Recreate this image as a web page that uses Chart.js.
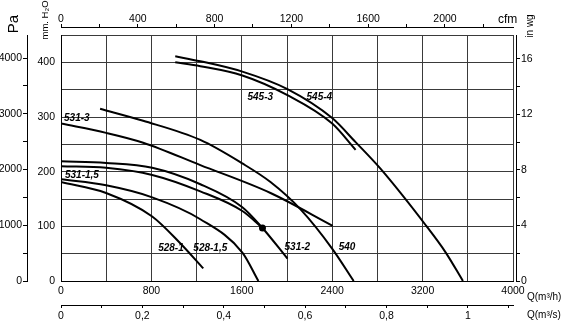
<!DOCTYPE html>
<html>
<head>
<meta charset="utf-8">
<script src="https://cdn.jsdelivr.net/npm/chart.js@4.4.1/dist/chart.umd.min.js"></script>
<style>
  html, body { margin: 0; padding: 0; background: #fff; }
  canvas { display: block; }
</style>
</head>
<body>
<canvas id="fanChart" width="566" height="326"></canvas>
<script>
// Fan curves: flow Q in m3/h, pressure in mm H2O
const q545_4 = [1011, 1233, 1605, 2004, 2400, 2607, 2829, 3228, 3405, 3557];
const p545_4 = [411, 402, 383, 351, 298, 254, 205, 102, 52, 0];
const q545_3 = [1011, 1233, 1605, 2004, 2400, 2607];
const p545_3 = [400, 393, 376, 340, 288, 240];
const q540 = [346, 727, 1233, 1605, 1854, 2120, 2404, 2590];
const p540 = [315, 293, 258, 215, 181, 131, 58, 0];
const q531_3 = [0, 399, 727, 1233, 1854, 2404];
const p531_3 = [288, 271, 253, 212, 161, 101];
const q531_2 = [0, 399, 807, 1233, 1605, 1783, 2004];
const p531_2 = [219, 216, 207, 177, 135, 97, 41];
const q531_15 = [0, 399, 807, 1233, 1605, 1783];
const p531_15 = [210, 207, 194, 164, 128, 97];
const q528_15 = [0, 399, 807, 1233, 1605, 1747];
const p528_15 = [186, 175, 153, 113, 52, 0];
const q528_1 = [0, 399, 807, 1055, 1259];
const p528_1 = [181, 161, 118, 69, 23];

const curveNames = ['545-4', '545-3', '540', '531-3', '531-2', '531-1,5', '528-1,5', '528-1'];

// unit conversions for the extra axes
const M3H_PER_CFM = 1.69901;
const PA_PER_MM = 9.80665;
const MM_PER_INWG = 25.4;
const Q_MAX = 4000;
const P_MAX = 450;

function toPoints(q, p) {
    return q.map((v, i) => ({ x: v, y: p[i] }));
}

const curves = [
    toPoints(q545_4, p545_4),
    toPoints(q545_3, p545_3),
    toPoints(q540, p540),
    toPoints(q531_3, p531_3),
    toPoints(q531_2, p531_2),
    toPoints(q531_15, p531_15),
    toPoints(q528_15, p528_15),
    toPoints(q528_1, p528_1)
];

// where each curve name is written (Q, mm H2O of the text's left/middle)
const labelAt = {
    '545-3': [1650, 337], '545-4': [2173, 337], '531-3': [27, 298], '531-1,5': [35, 194],
    '528-1': [860, 59], '528-1,5': [1171, 59], '531-2': [1978, 61], '540': [2457, 61]
};

const FONT = "'Liberation Sans', Arial, sans-serif";
const tickFont = { family: FONT, size: 10.5 };
const gridColor = '#3a3a3a';

// plain ticks every `step` from 0, no extra tick at the (odd) max
const everyStep = step => scale => {
    const ticks = [];
    for (let i = 0; i * step <= scale.max + 1e-9; i++) {
        ticks.push({ value: Math.round(i * step * 1000) / 1000 });
    }
    scale.ticks = ticks;
};

const curveLabels = {
    id: 'curveLabels',
    afterDatasetsDraw(chart) {
        const { ctx, scales } = chart;
        ctx.save();
        ctx.fillStyle = '#000';
        ctx.font = 'italic bold 10px ' + FONT;
        ctx.textAlign = 'left';
        ctx.textBaseline = 'middle';
        curveNames.forEach(name => {
            const [q, p] = labelAt[name];
            ctx.fillText(name, scales.x.getPixelForValue(q), scales.y.getPixelForValue(p));
        });
        ctx.restore();
    },
    afterDraw(chart) {
        const ctx = chart.ctx;
        ctx.save();
        ctx.fillStyle = '#000';
        ctx.textBaseline = 'middle';

        // unit captions
        ctx.font = '10px ' + FONT;
        ctx.textAlign = 'left';
        ctx.fillText('Q(m³/h)', 527, 297);
        ctx.fillText('Q(m³/s)', 527, 315);
        ctx.font = '12px ' + FONT;
        ctx.fillText('cfm', 498, 20);

        const vertical = (text, x, y, font) => {
            ctx.save();
            ctx.translate(x, y);
            ctx.rotate(-Math.PI / 2);
            ctx.font = font;
            ctx.textAlign = 'center';
            ctx.fillText(text, 0, 0);
            ctx.restore();
        };
        vertical('Pa', 14, 24, '15px ' + FONT);
        vertical('mm. H₂O', 45, 20, '9.5px ' + FONT);
        vertical('in wg', 530, 26, '10px ' + FONT);
        ctx.restore();
    }
};

new Chart(document.getElementById('fanChart'), {
    type: 'line',
    data: {
        datasets: curves.map((pts, i) => ({
            label: curveNames[i],
            data: pts,
            borderColor: '#000',
            backgroundColor: '#000',
            borderWidth: 2,
            // 531-1,5 ends with a dot on 531-2
            pointRadius: curveNames[i] === '531-1,5' ? pts.map((_, j) => j === pts.length - 1 ? 2.5 : 0) : 0,
            cubicInterpolationMode: 'monotone',
            fill: false,
            xAxisID: 'x',
            yAxisID: 'y'
        }))
    },
    options: {
        responsive: false,
        animation: false,
        layout: { padding: 0 },
        plugins: { legend: { display: false }, tooltip: { enabled: false } },
        scales: {
            x: {
                type: 'linear', position: 'bottom', weight: 0, min: 0, max: Q_MAX,
                afterBuildTicks: everyStep(400),
                ticks: { autoSkip: false, maxRotation: 0, padding: 4,
                         color: '#000', font: tickFont, callback: v => v % 800 === 0 ? v : '' },
                grid: { color: gridColor, lineWidth: 1, drawTicks: false },
                border: { color: '#000' },
                afterFit: s => { s.height = 24; }
            },
            qs: {
                axis: 'x', type: 'linear', position: 'bottom', weight: 1, min: 0, max: Q_MAX / 3600,
                afterBuildTicks: everyStep(0.1),
                ticks: { autoSkip: false, maxRotation: 0, padding: 2, color: '#000', font: tickFont,
                         callback: v => { const t = Math.round(v * 10); return t % 2 === 0 ? String(t / 10).replace('.', ',') : ''; } },
                grid: { drawOnChartArea: false, tickLength: 3, color: '#000' },
                border: { color: '#000' },
                afterFit: s => { s.height = 21; }
            },
            topGap: {
                axis: 'x', type: 'linear', position: 'top', weight: 0, display: true,
                ticks: { display: false }, grid: { display: false }, border: { display: false },
                afterFit: s => { s.height = 8; }
            },
            cfm: {
                axis: 'x', type: 'linear', position: 'top', weight: 1, min: 0, max: Q_MAX / M3H_PER_CFM,
                afterBuildTicks: everyStep(200),
                ticks: { autoSkip: false, maxRotation: 0, padding: -1, color: '#000', font: tickFont,
                         callback: v => v % 400 === 0 ? v : '' },
                grid: { drawOnChartArea: false, tickLength: 3, color: '#000' },
                border: { color: '#000' },
                afterFit: s => { s.height = 27; }
            },
            y: {
                type: 'linear', position: 'left', weight: 0, min: 0, max: P_MAX,
                afterBuildTicks: everyStep(50),
                ticks: { autoSkip: false, padding: 6, color: '#000', font: tickFont,
                         callback: v => v % 100 === 0 ? v : '' },
                grid: { color: gridColor, lineWidth: 1, drawTicks: false },
                border: { color: '#000' },
                afterFit: s => { s.width = 34; }
            },
            pa: {
                axis: 'y', type: 'linear', position: 'left', weight: 1, min: 0, max: P_MAX * PA_PER_MM,
                afterBuildTicks: everyStep(500),
                ticks: { autoSkip: false, padding: 1, color: '#000', font: tickFont,
                         callback: v => v % 1000 === 0 ? v : '' },
                grid: { drawOnChartArea: false, tickLength: 4, color: '#000' },
                border: { color: '#000' },
                afterFit: s => { s.width = 27; }
            },
            rightGap: {
                axis: 'y', type: 'linear', position: 'right', weight: 0, display: true,
                ticks: { display: false }, grid: { display: false }, border: { display: false },
                afterFit: s => { s.width = 3; }
            },
            inwg: {
                axis: 'y', type: 'linear', position: 'right', weight: 1, min: 0, max: P_MAX / MM_PER_INWG,
                afterBuildTicks: everyStep(2),
                ticks: { autoSkip: false, padding: 1, color: '#000', font: tickFont,
                         callback: v => v % 4 === 0 ? v : '' },
                grid: { drawOnChartArea: false, tickLength: 4, color: '#000' },
                border: { color: '#000' },
                afterFit: s => { s.width = 50; }
            }
        }
    },
    plugins: [curveLabels]
});
</script>
</body>
</html>
